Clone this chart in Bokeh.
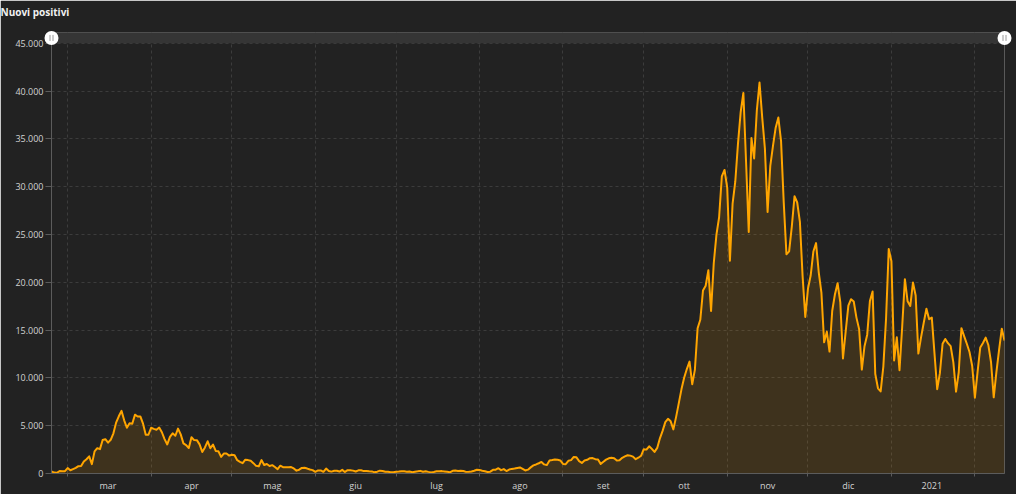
import math
import pandas as pd
from bokeh.plotting import figure
from bokeh.models import Range1d, FixedTicker, BoxAnnotation, Title
from bokeh.embed import file_html
from bokeh.resources import INLINE

# ---------------- data ----------------
start_date = "2020-02-24"
feb20 = [221, 93, 78, 250, 238, 240]
mar20 = [566, 342, 466, 587, 769, 778, 1247, 1492, 1797, 977, 2313, 2651, 2547, 3497, 3590, 3233,
         3526, 4207, 5322, 5986, 6557, 5560, 4789, 5249, 5210, 6153, 5959, 5974, 5217, 4050, 4053]
apr20 = [4782, 4668, 4585, 4805, 4316, 3599, 3039, 3836, 4204, 3951, 4694, 4092, 3153, 2972, 2667,
         3786, 3493, 3491, 3047, 2256, 2729, 3370, 2646, 3021, 2357, 2324, 1739, 2091, 2086, 1872]
may20 = [1965, 1900, 1389, 1221, 1075, 1444, 1401, 1327, 1083, 802, 744, 1402, 888, 992, 789, 875,
         675, 451, 813, 665, 642, 652, 669, 531, 300, 397, 584, 593, 516, 416, 355]
jun20 = [178, 318, 321, 177, 518, 270, 197, 280, 283, 202, 379, 163, 346, 338, 301, 210, 329, 333,
         251, 262, 224, 218, 122, 190, 296, 259, 175, 174, 126, 142]
jul20 = [187, 201, 223, 235, 192, 208, 138, 193, 229, 276, 188, 234, 169, 114, 162, 230, 233, 249,
         219, 190, 129, 282, 306, 252, 275, 255, 170, 181, 212, 289, 386]
aug20 = [379, 295, 239, 159, 190, 384, 402, 552, 347, 463, 259, 412, 481, 523, 574, 629, 479, 320,
         403, 642, 845, 947, 1071, 1210, 953, 878, 1367, 1411, 1462, 1444, 1365]
sep20 = [996, 978, 1326, 1397, 1733, 1695, 1297, 1108, 1370, 1434, 1597, 1616, 1501, 1458, 1008,
         1229, 1452, 1585, 1638, 1587, 1350, 1392, 1640, 1786, 1912, 1869, 1766, 1494, 1648, 1851]
oct20 = [2548, 2499, 2844, 2578, 2257, 2677, 3678, 4458, 5372, 5724, 5456, 4619, 5901, 7332, 8804,
         10010, 10925, 11705, 9338, 10874, 15199, 16079, 19143, 19644, 21273, 17012, 21994, 24991,
         26831, 31084, 31758]
nov20 = [29907, 22253, 28244, 30550, 34505, 37809, 39811, 32616, 25271, 35098, 32961, 37978, 40902,
         37255, 33979, 27354, 32191, 34283, 36176, 37242, 34767, 28337, 22930, 23232, 25853, 29003,
         28352, 26323, 20648, 16377]
dec20 = [19350, 20709, 23225, 24099, 21052, 18887, 13720, 14842, 12756, 16999, 18727, 19903, 17938,
         12030, 14844, 17572, 18236, 17992, 16308, 15104, 10872, 13318, 14522, 18040, 19037, 10407,
         8913, 8585, 11212, 16202, 23477]
jan21 = [22211, 11831, 14245, 10800, 15378, 20331, 18020, 17533, 19978, 18627, 12545, 14242, 15774,
         17246, 16146, 16310, 12545, 8824, 10497, 13571, 14078, 13633, 13331, 11629, 8562, 10593,
         15204, 14372, 13574, 12715, 11252]
feb21 = [7925, 10630, 13189, 13659, 14218, 13442, 11641, 7970, 10630, 12956, 15146, 13908]

nuovi_positivi = (feb20 + mar20 + apr20 + may20 + jun20 + jul20 + aug20 + sep20 + oct20 + nov20
                  + dec20 + jan21 + feb21)
dates = pd.date_range(start_date, periods=len(nuovi_positivi), freq="D")

month_starts = list(pd.date_range("2020-03-01", "2021-02-01", freq="MS"))   # grid lines
month_labels = ["mar", "apr", "mag", "giu", "lug", "ago", "set", "ott", "nov", "dic", "2021"]
y_ticks = [0, 5000, 10000, 15000, 20000, 25000, 30000, 35000, 40000, 45000]
title_text = "Nuovi positivi"

# ---------------- styling ----------------
BG = "#222222"
ORANGE = "#ffa500"
GRID = "#3c3c3c"
AXIS = "#5c5c5c"
LABEL = "#d2d2d2"
FONT = "Open Sans"

FRAME_W = 953
FRAME_H_MAIN = 436      # pixels for 0 .. 45000
BAR_H = 11              # scrollbar strip above 45000

def ms(t):
    return pd.Timestamp(t).value / 1e6

x0 = ms(dates[0])
x1 = ms(dates[-1])
y_top = y_ticks[-1]
y_end = y_top + BAR_H * y_top / FRAME_H_MAIN

p = figure(width=1016, height=494, x_axis_type="datetime",
           output_backend="svg", toolbar_location=None,
           x_range=Range1d(x0, x1), y_range=Range1d(0, y_end),
           background_fill_color=BG, border_fill_color=BG,
           min_border_left=51, min_border_right=12, min_border_top=32, min_border_bottom=15)
p.outline_line_color = None

# title (outermost) + an empty spacer panel between it and the plot area
p.title.text = title_text
p.title.align = "left"
p.title.offset = -51
p.title.standoff = 2
p.title.text_font = FONT
p.title.text_font_size = "10px"
p.title.text_font_style = "bold"
p.title.text_color = "#f0f0f0"
p.add_layout(Title(text=" ", text_font=FONT, text_font_size="7.5px", standoff=1,
                   text_color=BG), "above")

# area + line
p.varea(x=dates, y1=0, y2=nuovi_positivi, fill_color=ORANGE, fill_alpha=0.13)
p.line(x=dates, y=nuovi_positivi, line_color=ORANGE, line_width=2, line_join="round")

# y axis
p.yaxis.ticker = FixedTicker(ticks=y_ticks)
p.yaxis.major_label_overrides = {v: f"{v:,}".replace(",", ".") for v in y_ticks}
p.yaxis.axis_line_color = AXIS
p.yaxis.major_tick_line_color = AXIS
p.yaxis.major_tick_out = 6
p.yaxis.major_tick_in = 0
p.yaxis.minor_tick_line_color = None
p.yaxis.major_label_text_color = LABEL
p.yaxis.major_label_text_font = FONT
p.yaxis.major_label_text_font_size = "9px"
p.yaxis.major_label_standoff = 2

# x axis: labels mid-month, small ticks and grid at month boundaries
mid_ms = [ms(m) + 15 * 86400000 for m in month_starts[:len(month_labels)]]
start_ms = [ms(m) for m in month_starts]
p.xaxis.ticker = FixedTicker(ticks=mid_ms, minor_ticks=start_ms)
p.xaxis.major_label_overrides = {t: lab for t, lab in zip(mid_ms, month_labels)}
p.xaxis.axis_line_color = AXIS
p.xaxis.major_tick_line_color = None
p.xaxis.major_tick_out = 0
p.xaxis.major_tick_in = 0
p.xaxis.minor_tick_line_color = AXIS
p.xaxis.minor_tick_out = 3
p.xaxis.minor_tick_in = 0
p.xaxis.major_label_text_color = LABEL
p.xaxis.major_label_text_font = FONT
p.xaxis.major_label_text_font_size = "9px"
p.xaxis.major_label_standoff = 2

# grid
p.xgrid.ticker = FixedTicker(ticks=start_ms)
p.ygrid.ticker = FixedTicker(ticks=y_ticks)
for g in (p.xgrid, p.ygrid):
    g.grid_line_color = GRID
    g.grid_line_dash = "3 3"
    g.grid_line_width = 1

# scrollbar
p.add_layout(BoxAnnotation(left=x0, right=x1, bottom=y_top, top=y_end,
                           fill_color="#353535", fill_alpha=1, line_color=None))
ymid = (y_top + y_end) / 2
p.scatter([x0, x1], [ymid, ymid], size=14, marker="circle", fill_color="#ffffff",
          line_color=None, level="overlay")
ms_per_px = (x1 - x0) / FRAME_W
gx = [x0 - 1.5 * ms_per_px, x0 + 1.5 * ms_per_px, x1 - 1.5 * ms_per_px, x1 + 1.5 * ms_per_px]
p.scatter(gx, [ymid] * 4, size=6, marker="dash", angle=math.pi / 2,
          line_color="#9a9a9a", line_width=1, level="overlay")

open("out.html", "w").write(file_html(p, INLINE))
